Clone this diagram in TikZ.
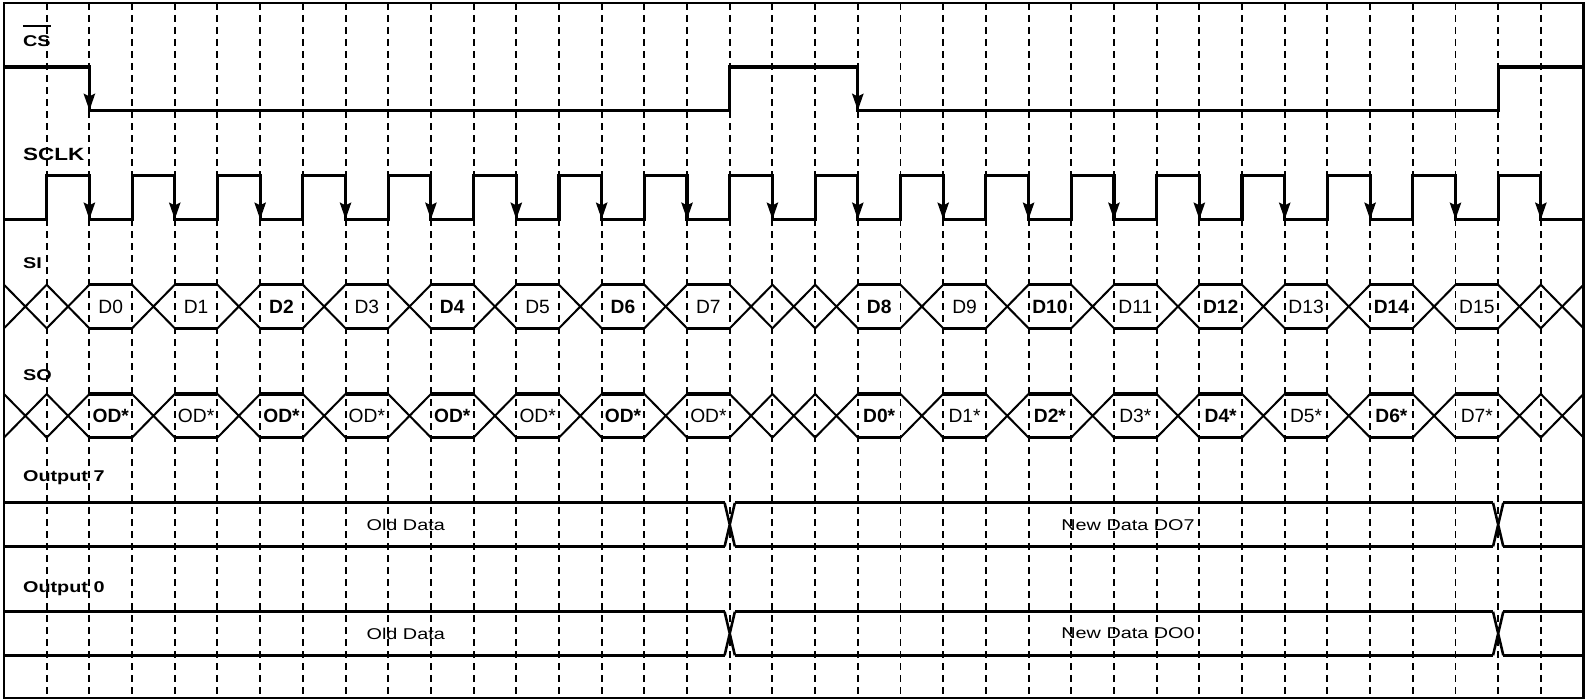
\documentclass[tikz,border=0pt]{standalone}
\usepackage{fontspec}
\setmainfont{Liberation Sans}
\newfontfamily\widefont{Liberation Sans}[FakeStretch=1.27]
\usetikzlibrary{arrows.meta}

\tikzstyle{gridline}=[line width=1.3pt,dash pattern=on 4.5pt off 3.5pt]
\tikzstyle{sig}=[line width=2.1pt,line join=miter]
\tikzstyle{xline}=[line width=1.35pt]
\tikzstyle{fall}=[line width=2.1pt,-{Stealth[length=3.9mm,width=2.6mm,inset=0.6mm]}]
\tikzstyle{signame}=[anchor=base west,inner sep=0pt,font=\widefont\bfseries\fontsize{10.4}{12}\selectfont]
\tikzstyle{cell}=[inner sep=0pt,font=\fontsize{12.8}{14}\selectfont]
\tikzstyle{busdata}=[inner sep=0pt,font=\widefont\fontsize{10.4}{12}\selectfont]

\begin{document}
\begin{tikzpicture}
	\useasboundingbox (-0.094,0.07) rectangle (37.081,-16.304);
	% Grid
	\foreach \x in {1,...,36}
		\draw[gridline] (\x,0) -- (\x,-16.28);
	\draw[line width=1.6pt] (0,0) rectangle (37,-16.28);

	% CS
	\node[signame] (cs) at (0.44,-1.02) {CS};
	\draw[line width=1.4pt] ([yshift=0.22cm]cs.north west) -- ([yshift=0.22cm]cs.north east);
	\draw[sig] (0,-1.5) -- (2,-1.5) -- (2,-2.52) -- (17,-2.52) -- (17,-1.5) -- (20,-1.5) -- (20,-2.52) -- (35,-2.52) -- (35,-1.5) -- (37,-1.5);
	\foreach \x in {2,20}
		\draw[fall] (\x,-1.9) -- (\x,-2.52);

	% SCLK
	\node[signame,font=\widefont\bfseries\fontsize{11.8}{13}\selectfont] (sclk) at (0.44,-3.69) {SCLK};
	\draw[sig] (0,-5.07) \foreach \x in {1,3,...,35} { -- (\x,-5.07) -- (\x,-4.05) -- (\x+1,-4.05) -- (\x+1,-5.07) } -- (37,-5.07);
	\foreach \x in {2,4,...,36}
		\draw[fall] (\x,-4.45) -- (\x,-5.07);

	% SI, SO
	\foreach \t/\b in {-6.6/-7.62,-9.16/-10.18} {
		\foreach \x in {2,4,6,8,10,12,14,16,20,22,24,26,28,30,32,34}
			\draw[sig] (\x,\t) -- (\x+1,\t) (\x,\b) -- (\x+1,\b);
		\foreach \x in {0,1,3,5,7,9,11,13,15,17,18,19,21,23,25,27,29,31,33,35,36}
			\draw[xline] (\x,\t) -- (\x+1,\b) (\x,\b) -- (\x+1,\t);
	}
	\node[signame] (si) at (0.44,-6.23) {SI};
	\foreach \x/\txt [count=\i] in {2/D0,4/D1,6/\textbf{D2},8/D3,10/\textbf{D4},12/D5,14/\textbf{D6},16/D7,
		20/\textbf{D8},22/D9,24/\textbf{D10},26/D11,28/\textbf{D12},30/D13,32/\textbf{D14},34/D15}
		\node[cell] (si\i) at (\x+0.5,-7.11) {\txt};
	\node[signame] (so) at (0.44,-8.84) {SO};
	\foreach \x/\txt [count=\i] in {2/\textbf{OD*},4/OD*,6/\textbf{OD*},8/OD*,10/\textbf{OD*},12/OD*,14/\textbf{OD*},16/OD*,
		20/\textbf{D0*},22/D1*,24/\textbf{D2*},26/D3*,28/\textbf{D4*},30/D5*,32/\textbf{D6*},34/D7*}
		\node[cell] (so\i) at (\x+0.5,-9.67) {\txt};

	% Outputs
	\foreach \t/\b in {-11.71/-12.73,-14.26/-15.28} {
		\draw[sig] (0,\t) -- (16.88,\t) (0,\b) -- (16.88,\b) (17.12,\t) -- (34.88,\t) (17.12,\b) -- (34.88,\b)
			(35.12,\t) -- (37,\t) (35.12,\b) -- (37,\b);
		\foreach \x in {17,35}
			\draw[sig,line width=1.7pt] (\x-0.12,\t) -- (\x+0.12,\b) (\x-0.12,\b) -- (\x+0.12,\t);
	}
	\node[signame] (out7) at (0.44,-11.22) {Output 7};
	\node[busdata] (old7) at (9.41,-12.22) {Old Data};
	\node[busdata] (new7) at (26.33,-12.22) {New Data DO7};
	\node[signame] (out0) at (0.44,-13.81) {Output 0};
	\node[busdata] (old0) at (9.41,-14.77) {Old Data};
	\node[busdata] (new0) at (26.33,-14.77) {New Data DO0};
\end{tikzpicture}
\end{document}
